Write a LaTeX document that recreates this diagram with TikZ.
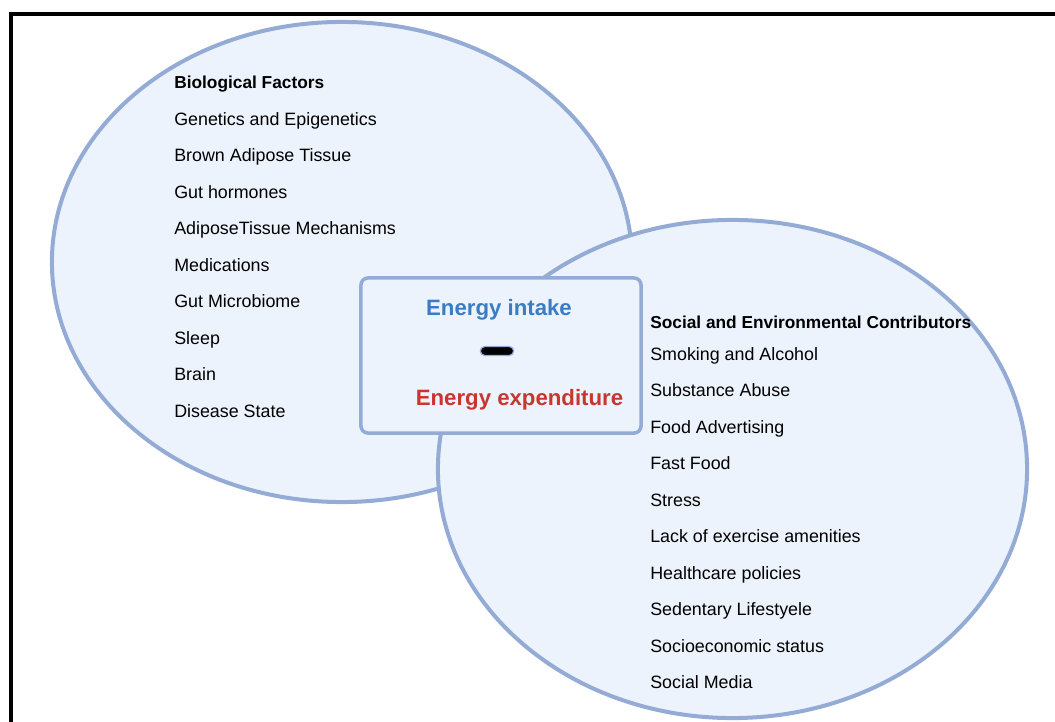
\documentclass[tikz,border=0pt]{standalone}
\usepackage{fontspec}
\setmainfont{Liberation Sans}
\usepackage{tikz}
\usetikzlibrary{shapes,positioning}
\usepackage{xcolor}
\definecolor{ovline}{RGB}{148,171,214}
\definecolor{ovfill}{RGB}{236,243,252}
\definecolor{eiblue}{RGB}{58,125,197}
\definecolor{eered}{RGB}{200,55,47}
\tikzstyle{oval} = [ellipse,draw=ovline,fill=ovfill,line width=2.85pt,inner sep=0pt,outer sep=0pt]
\tikzstyle{item} = [anchor=base west,inner sep=0pt,font=\fontsize{12.7}{15}\selectfont]
\tikzstyle{head} = [item,font=\fontsize{12.3}{15}\selectfont\bfseries]

\begin{document}
\begin{tikzpicture}[x=0.025cm,y=-0.025cm]
\useasboundingbox (0,0) rectangle (1055,722);
% frame
\draw[line width=2.8pt] (11,722) -- (11,14) -- (1055,14);

% Two ovals
\node[oval, minimum width=14.5cm, minimum height=12cm] (bio) at (342,262) {};
\node[oval, minimum width=14.725cm, minimum height=12.45cm] (soc) at (732.5,469) {};

% Balance box
\node[draw=ovline, fill=ovfill, line width=2.5pt, rounded corners=5pt,
      minimum width=7cm, minimum height=3.875cm] (bal) at (501,355.5) {};
\node[eiblue, font=\fontsize{15.8}{18}\selectfont\bfseries] (intake) at (499,309.5) {Energy intake};
\node[fill=black, draw=ovline, line width=0.9pt, rounded corners=3pt, inner sep=0pt,
      minimum width=0.83cm, minimum height=0.22cm] (minus) at (497,351) {};
\node[eered, font=\fontsize{15.8}{18}\selectfont\bfseries] (expend) at (519.5,399.5) {Energy expenditure};

% Biological list
\node[head] (biohead) at (174,89) {Biological Factors};
\foreach \t [count=\i] in {Genetics and Epigenetics, Brown Adipose Tissue, Gut hormones,
    AdiposeTissue Mechanisms, Medications, Gut Microbiome, Sleep, Brain, Disease State}
  \node[item] (bio\i) at (174,88.5+36.55*\i) {\t};

% Social list
\node[head] (sochead) at (650,329) {Social and Environmental Contributors};
\foreach \t [count=\i] in {Smoking and Alcohol, Substance Abuse, Food Advertising, Fast Food,
    Stress, Lack of exercise amenities, Healthcare policies, Sedentary Lifestyele,
    Socioeconomic status, Social Media}
  \node[item] (soc\i) at (650,324+36.45*\i) {\t};
\end{tikzpicture}
\end{document}
